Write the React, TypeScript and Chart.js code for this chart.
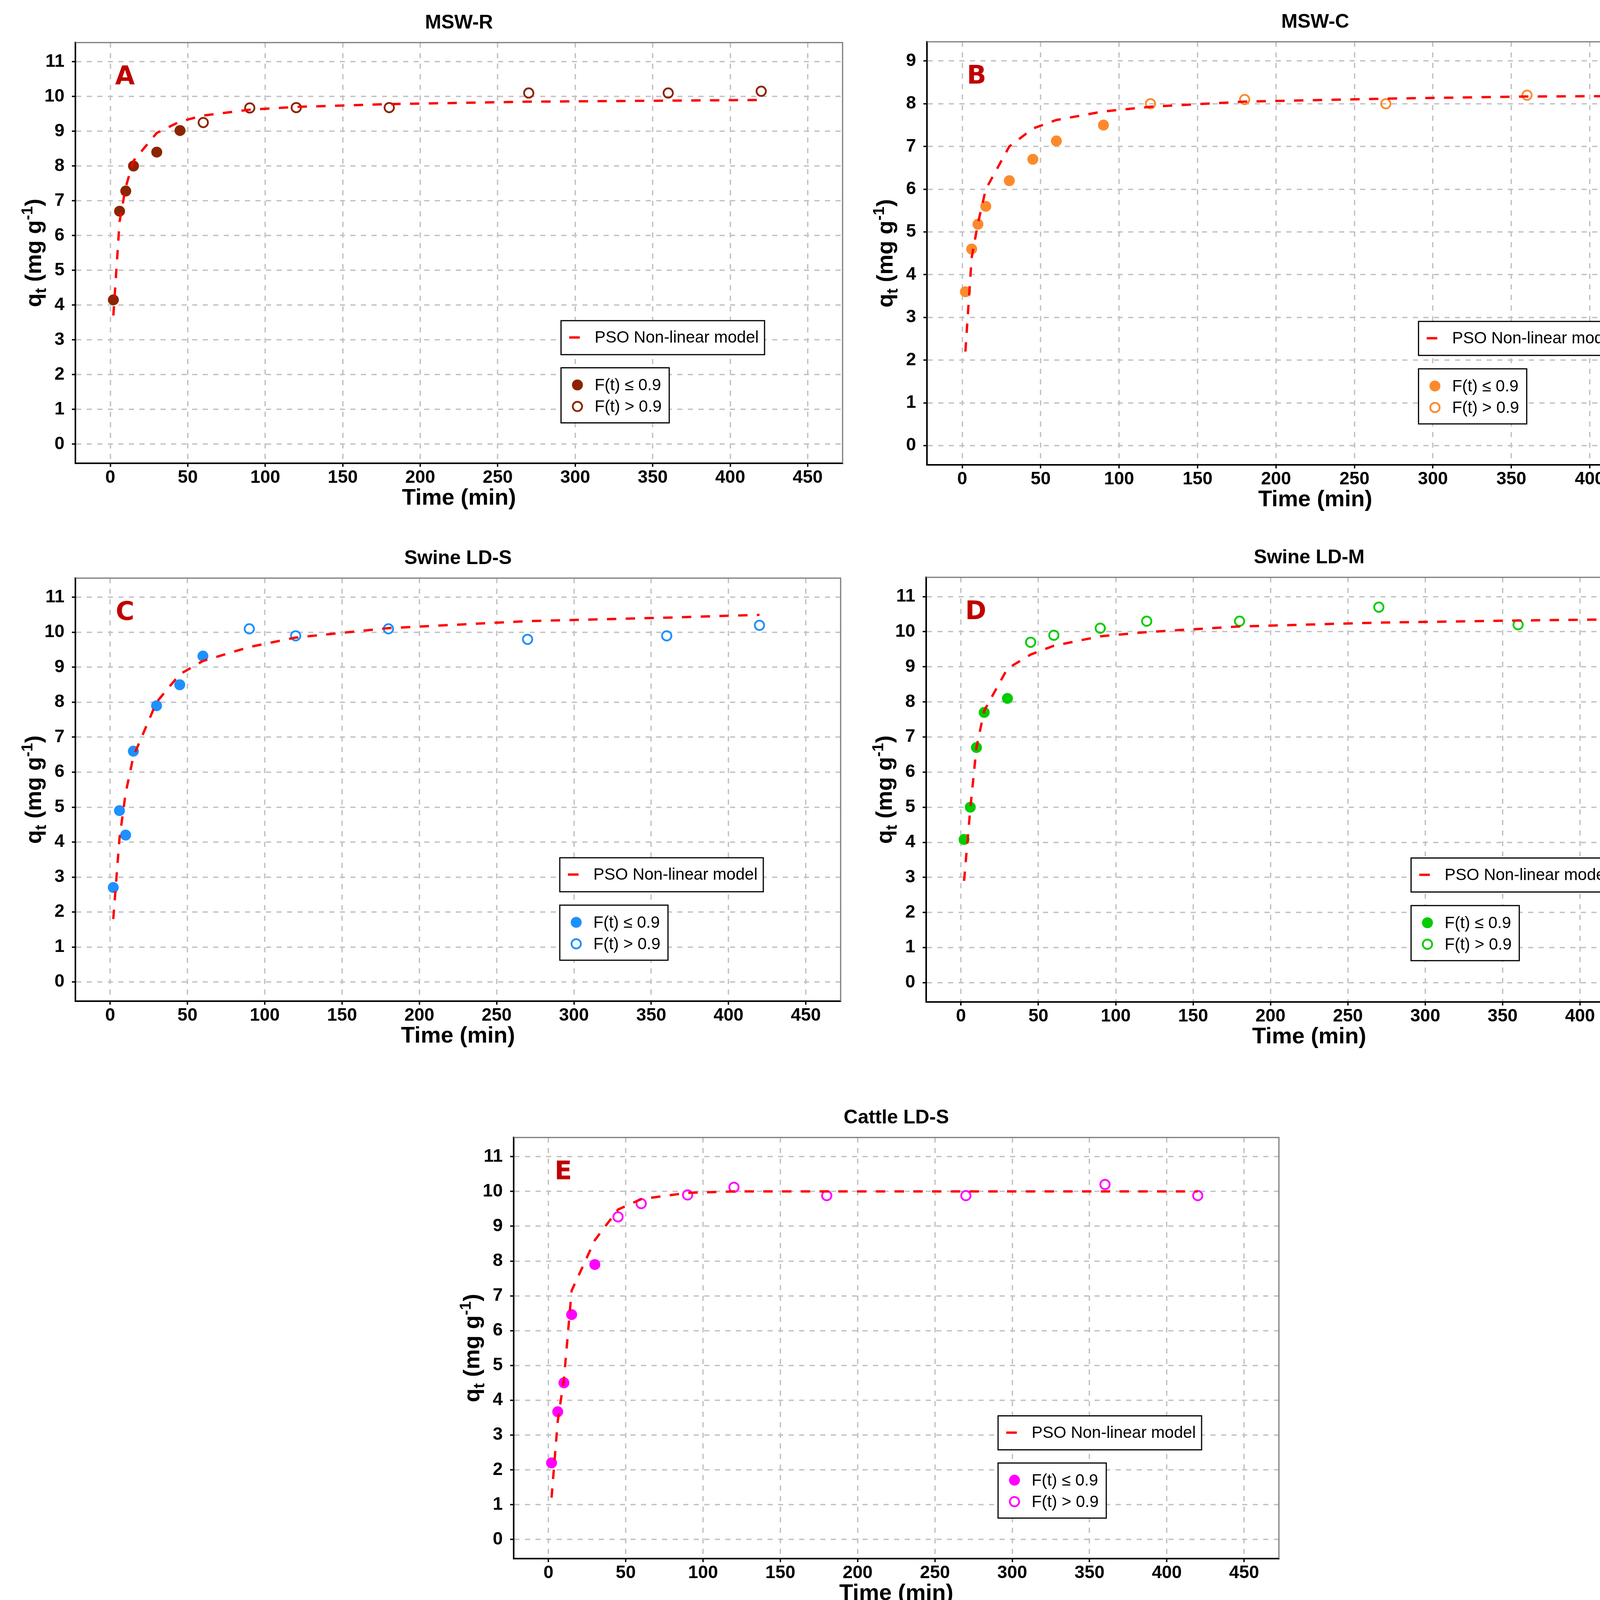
import React, { useEffect, useRef } from "react";
import { Chart, registerables } from "chart.js";

Chart.register(...registerables);

const FONT = "'Liberation Sans', Arial, Helvetica, sans-serif";

// sampling times (min), same for every material
const TIME = [2, 6, 10, 15, 30, 45, 60, 90, 120, 180, 270, 360, 420];
const X_TICKS = [0, 50, 100, 150, 200, 250, 300, 350, 400, 450];
const Y_TICKS_11 = [0, 1, 2, 3, 4, 5, 6, 7, 8, 9, 10, 11];
const Y_TICKS_9 = [0, 1, 2, 3, 4, 5, 6, 7, 8, 9];

// measured qt (mg/g)
const Q_MSW_R = [4.15, 6.7, 7.28, 8.0, 8.4, 9.02, 9.25, 9.67, 9.68, 9.68, 10.1, 10.1, 10.15];
const Q_MSW_C = [3.6, 4.6, 5.18, 5.6, 6.2, 6.7, 7.13, 7.5, 8.0, 8.1, 8.0, 8.2, 8.0];
const Q_SWINE_S = [2.7, 4.9, 4.2, 6.6, 7.9, 8.5, 9.32, 10.1, 9.9, 10.1, 9.8, 9.9, 10.2];
const Q_SWINE_M = [4.08, 5.0, 6.7, 7.7, 8.1, 9.7, 9.9, 10.1, 10.3, 10.3, 10.7, 10.2, 10.2];
const Q_CATTLE_S = [2.2, 3.67, 4.5, 6.46, 7.9, 9.27, 9.65, 9.9, 10.12, 9.88, 9.88, 10.2, 9.88];

// PSO non-linear fit, read at the same times
const PSO_MSW_R = [3.7, 6.4, 7.4, 8.15, 8.95, 9.28, 9.45, 9.62, 9.7, 9.78, 9.85, 9.88, 9.9];
const PSO_MSW_C = [2.2, 4.4, 5.2, 6.0, 7.0, 7.42, 7.62, 7.82, 7.93, 8.05, 8.12, 8.17, 8.18];
const PSO_SWINE_S = [1.8, 4.1, 5.4, 6.45, 8.0, 8.8, 9.18, 9.58, 9.85, 10.12, 10.32, 10.42, 10.5];
const PSO_SWINE_M = [2.9, 4.95, 6.7, 7.75, 8.95, 9.35, 9.6, 9.87, 9.99, 10.15, 10.26, 10.32, 10.35];
const PSO_CATTLE_S = [1.2, 3.4, 4.6, 7.15, 8.6, 9.48, 9.78, 9.96, 10.0, 10.0, 10.0, 10.0, 10.0];

// how many of the first points have F(t) <= 0.9
const N_LOW_MSW_R = 6;
const N_LOW_MSW_C = 8;
const N_LOW_SWINE_S = 7;
const N_LOW_SWINE_M = 5;
const N_LOW_CATTLE_S = 5;

interface PanelSpec {
  title: string;
  letter: string;
  color: string;
  q: number[];
  model: number[];
  nLow: number;
  yTicks: number[];
  yMin: number;
  yMax: number;
  rect: [number, number, number, number]; // plot area in page px
}

const PAD_L = 200;
const PAD_T = 110;
const PAD_R = 20;
const PAD_B = 150;

const PANELS: PanelSpec[] = [
  { title: "MSW-R", letter: "A", color: "#8B2500", q: Q_MSW_R, model: PSO_MSW_R, nLow: N_LOW_MSW_R, yTicks: Y_TICKS_11, yMin: -0.55, yMax: 11.55, rect: [193, 109, 2157, 1186] },
  { title: "MSW-C", letter: "B", color: "#FC8A2C", q: Q_MSW_C, model: PSO_MSW_C, nLow: N_LOW_MSW_C, yTicks: Y_TICKS_9, yMin: -0.45, yMax: 9.45, rect: [2373, 107, 4361, 1190] },
  { title: "Swine LD-S", letter: "C", color: "#1E90FF", q: Q_SWINE_S, model: PSO_SWINE_S, nLow: N_LOW_SWINE_S, yTicks: Y_TICKS_11, yMin: -0.55, yMax: 11.55, rect: [193, 1480, 2152, 2563] },
  { title: "Swine LD-M", letter: "D", color: "#00CC00", q: Q_SWINE_M, model: PSO_SWINE_M, nLow: N_LOW_SWINE_M, yTicks: Y_TICKS_11, yMin: -0.55, yMax: 11.55, rect: [2371, 1478, 4332, 2565] },
  { title: "Cattle LD-S", letter: "E", color: "#FF00FF", q: Q_CATTLE_S, model: PSO_CATTLE_S, nLow: N_LOW_CATTLE_S, yTicks: Y_TICKS_11, yMin: -0.55, yMax: 11.55, rect: [1315, 2912, 3274, 3990] },
];

function makeDecor(spec: PanelSpec) {
  return {
    id: "decor",
    afterDraw(chart: any) {
      const { ctx, chartArea: a } = chart;
      const w = a.right - a.left;
      const h = a.bottom - a.top;
      const cx = (a.left + a.right) / 2;
      ctx.save();
      ctx.setLineDash([]);

      // grey top / right panel border
      ctx.strokeStyle = "#7a7a7a";
      ctx.lineWidth = 3;
      ctx.beginPath();
      ctx.moveTo(a.left, a.top);
      ctx.lineTo(a.right, a.top);
      ctx.lineTo(a.right, a.bottom);
      ctx.stroke();

      // title
      ctx.fillStyle = "#000";
      ctx.textAlign = "center";
      ctx.textBaseline = "middle";
      ctx.font = `bold 50px ${FONT}`;
      ctx.fillText(spec.title, cx, a.top - 50);

      // x title
      ctx.font = `bold 58px ${FONT}`;
      ctx.fillText("Time (min)", cx, a.bottom + 90);

      // y title with subscript / superscript
      ctx.save();
      ctx.translate(a.left - 108, (a.top + a.bottom) / 2);
      ctx.rotate(-Math.PI / 2);
      const big = `bold 58px ${FONT}`;
      const small = `bold 40px ${FONT}`;
      const parts = [
        { t: "q", f: big, dy: 0 },
        { t: "t", f: small, dy: 13 },
        { t: " (mg g", f: big, dy: 0 },
        { t: "-1", f: small, dy: -22 },
        { t: ")", f: big, dy: 0 },
      ];
      let total = 0;
      for (const p of parts) {
        ctx.font = p.f;
        total += ctx.measureText(p.t).width;
      }
      let x = -total / 2;
      ctx.textAlign = "left";
      ctx.textBaseline = "alphabetic";
      for (const p of parts) {
        ctx.font = p.f;
        ctx.fillText(p.t, x, 20 + p.dy);
        x += ctx.measureText(p.t).width;
      }
      ctx.restore();

      // panel letter
      ctx.fillStyle = "#C00000";
      ctx.font = `bold 65px 'DejaVu Sans', ${FONT}`;
      ctx.textAlign = "center";
      ctx.textBaseline = "middle";
      ctx.fillText(spec.letter, a.left + 127, a.top + 90);

      // legend 1: model line
      const lx = a.left + 0.633 * w;
      const ly1 = a.top + 0.661 * h;
      ctx.fillStyle = "#fff";
      ctx.fillRect(lx, ly1, 521, 87);
      ctx.strokeStyle = "#000";
      ctx.lineWidth = 3;
      ctx.strokeRect(lx, ly1, 521, 87);
      ctx.strokeStyle = "#FF0000";
      ctx.lineWidth = 6;
      ctx.beginPath();
      ctx.moveTo(lx + 21, ly1 + 43);
      ctx.lineTo(lx + 48, ly1 + 43);
      ctx.stroke();
      ctx.fillStyle = "#000";
      ctx.font = `42px ${FONT}`;
      ctx.textAlign = "left";
      ctx.textBaseline = "middle";
      ctx.fillText("PSO Non-linear model", lx + 86, ly1 + 45);

      // legend 2: point classes
      const ly2 = a.top + 0.773 * h;
      ctx.fillStyle = "#fff";
      ctx.fillRect(lx, ly2, 277, 141);
      ctx.strokeStyle = "#000";
      ctx.lineWidth = 3;
      ctx.strokeRect(lx, ly2, 277, 141);
      ctx.fillStyle = spec.color;
      ctx.beginPath();
      ctx.arc(lx + 42, ly2 + 44, 14, 0, Math.PI * 2);
      ctx.fill();
      ctx.strokeStyle = spec.color;
      ctx.lineWidth = 4.5;
      ctx.beginPath();
      ctx.arc(lx + 42, ly2 + 99, 12, 0, Math.PI * 2);
      ctx.stroke();
      ctx.fillStyle = "#000";
      ctx.fillText("F(t) \u2264 0.9", lx + 86, ly2 + 46);
      ctx.fillText("F(t) > 0.9", lx + 86, ly2 + 101);

      ctx.restore();
    },
  };
}

function KineticsPanel({ spec }: { spec: PanelSpec }) {
  const chartRef = useRef<HTMLCanvasElement | null>(null);
  const [l, t, r, b] = spec.rect;
  const W = r - l + PAD_L + PAD_R;
  const H = b - t + PAD_T + PAD_B;

  useEffect(() => {
    if (!chartRef.current) return;
    const low = TIME.slice(0, spec.nLow).map((x, i) => ({ x, y: spec.q[i] }));
    const high = TIME.slice(spec.nLow).map((x, i) => ({ x, y: spec.q[spec.nLow + i] }));
    const fit = TIME.map((x, i) => ({ x, y: spec.model[i] }));

    const tickFont = { family: FONT, size: 46, weight: "bold" as const };

    const chart = new Chart(chartRef.current, {
      type: "scatter",
      data: {
        datasets: [
          {
            data: fit,
            showLine: true,
            borderColor: "#FF0000",
            borderWidth: 6,
            borderDash: [24, 24],
            pointRadius: 0,
            tension: 0,
            order: 0,
          },
          {
            data: low,
            backgroundColor: spec.color,
            borderColor: spec.color,
            borderWidth: 0,
            pointRadius: 14,
            order: 1,
          },
          {
            data: high,
            backgroundColor: "rgba(0,0,0,0)",
            borderColor: spec.color,
            borderWidth: 4.5,
            pointRadius: 12,
            order: 1,
          },
        ],
      },
      options: {
        animation: false,
        responsive: false,
        devicePixelRatio: 1,
        events: [],
        layout: { padding: { left: 0, top: PAD_T, right: PAD_R, bottom: 0 } },
        plugins: { legend: { display: false }, tooltip: { enabled: false } },
        scales: {
          x: {
            type: "linear",
            min: -22.5,
            max: 472.5,
            afterBuildTicks: (s: any) => {
              s.ticks = X_TICKS.map((v) => ({ value: v }));
            },
            afterFit: (s: any) => {
              s.height = PAD_B;
            },
            grid: { color: "#C2C2C2", lineWidth: 3.5, tickLength: 9, tickColor: "#000", tickWidth: 3.5 },
            border: { display: true, color: "#000", width: 4, dash: [13, 14] },
            ticks: { color: "#000", font: tickFont, padding: 1, maxRotation: 0, autoSkip: false },
          },
          y: {
            type: "linear",
            min: spec.yMin,
            max: spec.yMax,
            afterBuildTicks: (s: any) => {
              s.ticks = spec.yTicks.map((v) => ({ value: v }));
            },
            afterFit: (s: any) => {
              s.width = PAD_L;
            },
            grid: { color: "#C2C2C2", lineWidth: 3.5, tickLength: 9, tickColor: "#000", tickWidth: 3.5 },
            border: { display: true, color: "#000", width: 4, dash: [13, 14] },
            ticks: { color: "#000", font: tickFont, padding: 19, autoSkip: false },
          },
        },
      },
      plugins: [makeDecor(spec)],
    } as any);

    return () => {
      chart.destroy();
    };
  }, [spec]);

  return (
    <canvas
      ref={chartRef}
      width={W}
      height={H}
      style={{ position: "absolute", left: l - PAD_L, top: t - PAD_T, width: W, height: H }}
    />
  );
}

export default function App() {
  return (
    <div
      style={{
        position: "absolute",
        left: 0,
        top: 0,
        width: 4385,
        height: 4124,
        background: "#fff",
        overflow: "hidden",
      }}
    >
      {PANELS.map((p) => (
        <KineticsPanel key={p.letter} spec={p} />
      ))}
    </div>
  );
}
